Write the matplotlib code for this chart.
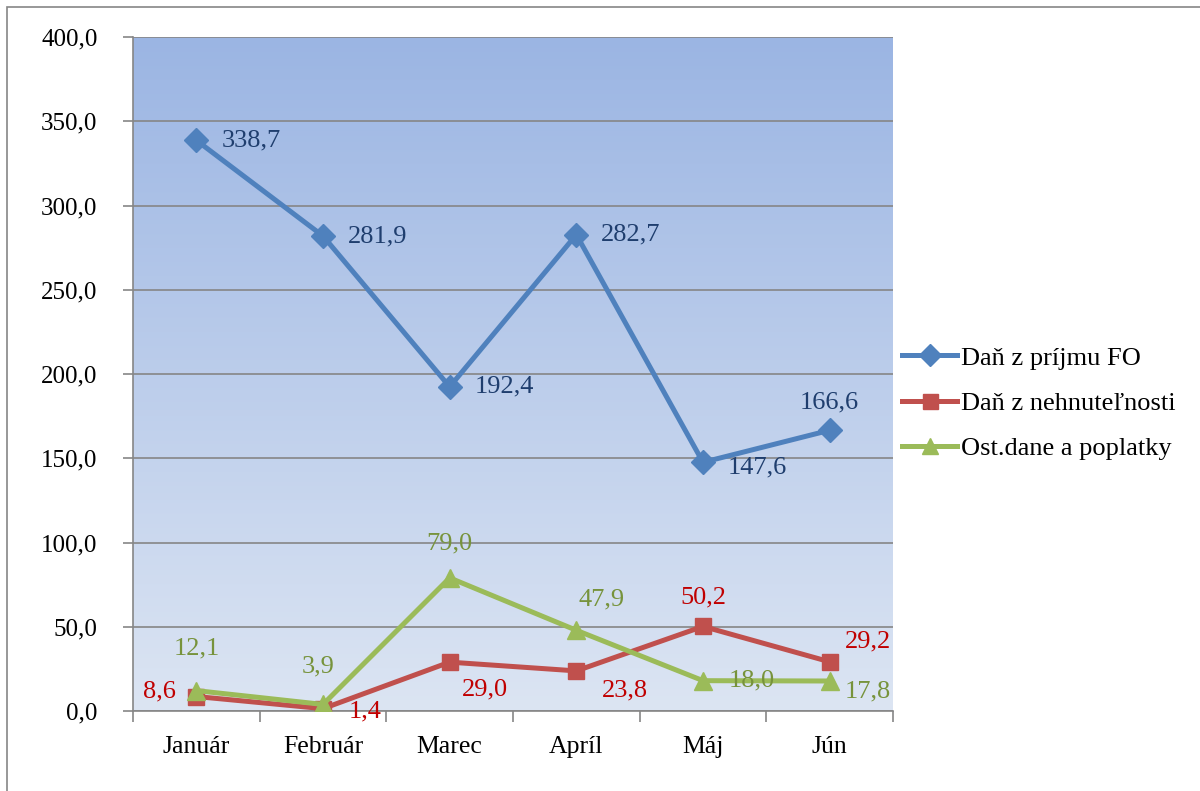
import matplotlib.pyplot as plt
import matplotlib.colors as mcolors
from matplotlib.patches import Rectangle
import numpy as np

mesiace = ['Január', 'Február', 'Marec', 'Apríl', 'Máj', 'Jún']
dan_fo = [338.7, 281.9, 192.4, 282.7, 147.6, 166.6]
dan_nehnut = [8.6, 1.4, 29.0, 23.8, 50.2, 29.2]
ost_dane = [12.1, 3.9, 79.0, 47.9, 18.0, 17.8]

# offset popiskov v pixeloch (dx, dy, ha, va)
off_fo = [(25, 0, 'left', 'center')] * 5 + [(0, 28, 'center', 'center')]
off_fo[4] = (25, -5, 'left', 'center')
off_neh = [(-20, 5, 'right', 'center'), (26, -3, 'left', 'center'),
           (12, -27, 'left', 'center'), (26, -20, 'left', 'center'),
           (0, 29, 'center', 'center'), (15, 20, 'left', 'center')]
off_ost = [(0, 42, 'center', 'center'), (-5, 38, 'center', 'center'),
           (0, 34, 'center', 'center'), (25, 31, 'center', 'center'),
           (26, 0, 'left', 'center'), (15, -10, 'left', 'center')]

plt.rcParams['font.family'] = ['Liberation Serif', 'DejaVu Serif']

fig = plt.figure(figsize=(12, 7.91), dpi=100)
ax = fig.add_axes([133 / 1200, 1 - 711 / 791, 760 / 1200, 674 / 791])

# gradient pozadia
cmap = mcolors.LinearSegmentedColormap.from_list('bg', ['#dce5f3', '#9bb5e3'])
grad = np.linspace(0, 1, 256).reshape(-1, 1)
ax.imshow(grad, aspect='auto', cmap=cmap, origin='lower',
          extent=[0, 1, 0, 1], transform=ax.transAxes, zorder=0)

x = np.arange(len(mesiace))
series = [
    (dan_fo, '#4f81bd', 'D', 12, '#1f3e6e', off_fo, 'Daň z príjmu FO'),
    (dan_nehnut, '#c0504d', 's', 12, '#c00000', off_neh, 'Daň z nehnuteľnosti'),
    (ost_dane, '#9bbb59', '^', 13, '#77933c', off_ost, 'Ost.dane a poplatky'),
]
for vals, col, mk, ms, tcol, offs, lab in series:
    ax.plot(x, vals, color=col, lw=3.6, marker=mk, ms=ms, label=lab, zorder=3)
    for xi, v, (dx, dy, ha, va) in zip(x, vals, offs):
        ax.annotate(f'{v:.1f}'.replace('.', ','), (xi, v), xytext=(dx, dy),
                    textcoords='offset pixels', ha=ha, va=va,
                    color=tcol, fontsize=19, zorder=4)

ax.set_xlim(-0.5, len(mesiace) - 0.5)
ax.set_ylim(0, 400)
ax.set_yticks(np.arange(0, 401, 50))
ax.set_yticklabels([f'{v:.1f}'.replace('.', ',') for v in np.arange(0, 401, 50)])
ax.set_xticks(x)
ax.set_xticklabels(mesiace)
ax.set_xticks(np.arange(-0.5, len(mesiace), 1), minor=True)
ax.tick_params(axis='x', which='major', length=0, pad=18, labelsize=18.5)
ax.tick_params(axis='x', which='minor', length=8, color='#868686', width=1.2)
ax.tick_params(axis='y', length=7, color='#868686', width=1.2, labelsize=18, pad=18.5)
ax.grid(axis='y', color='#868686', lw=1.2)
ax.set_axisbelow(True)
for s in ['top', 'right']:
    ax.spines[s].set_visible(False)
for s in ['left', 'bottom']:
    ax.spines[s].set_color('#868686')
    ax.spines[s].set_linewidth(1.2)

fig.legend(loc='center left', bbox_to_anchor=(902 / 1200, 1 - 403 / 791),
           frameon=False, fontsize=19, handlelength=2.1, labelspacing=0.82,
           handletextpad=0.15, markerscale=0.9, borderpad=0, borderaxespad=0)

fig.patches.append(Rectangle((7 / 1200, -0.1), 1.2, 1.1 - 7 / 791,
                             transform=fig.transFigure, fill=False,
                             edgecolor='#868686', lw=1.2))

fig.savefig('out.png', dpi=100)
